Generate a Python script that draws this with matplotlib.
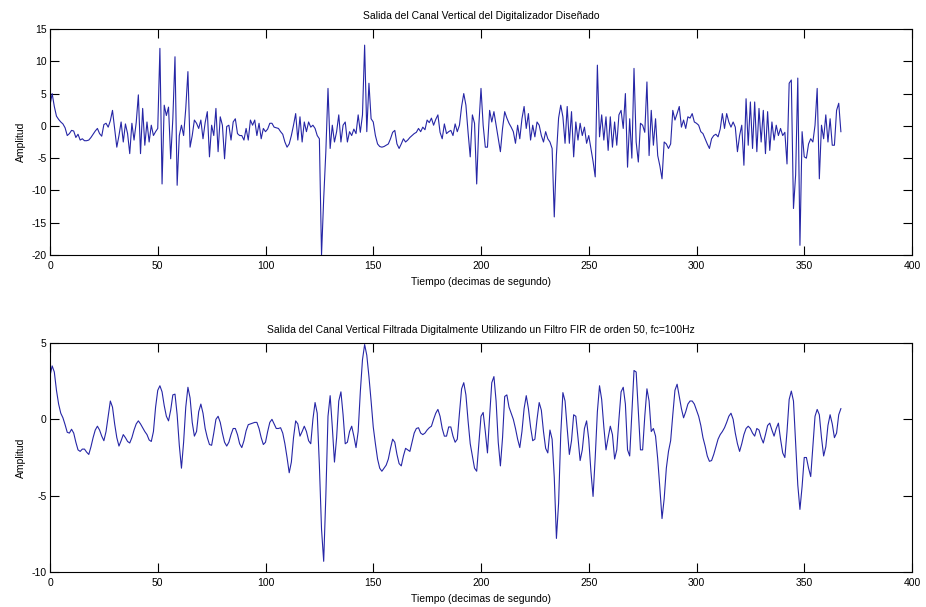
import numpy as np
import matplotlib
matplotlib.use("Agg")
import matplotlib.pyplot as plt

# Raw vertical-channel output of the digitizer (one sample per tenth of a second)
raw_signal = [
    3.2, 5.0, 3.0, 1.5, 1.0, 0.6, 0.3, -0.3, -1.5, -1.2,
    -0.7, -0.8, -1.8, -1.3, -2.2, -2.0, -2.3, -2.3, -2.2, -1.8,
    -1.3, -0.8, -0.4, -1.2, -1.6, 0.2, 0.4, -0.2, 0.8, 2.4,
    -0.5, -3.3, -1.5, 0.6, -2.5, 0.3, -1.2, -4.3, 0.4, -2.2,
    0.5, 4.8, -4.3, 2.7, -3.0, 0.6, -2.5, 0.1, -1.5, -0.9,
    -0.4, 12.0, -9.0, 3.2, 1.6, 2.9, -5.1, 1.1, 10.7, -9.2,
    -1.5, 0.1, -1.5, 2.7, 8.4, -3.3, -1.5, 0.9, 0.4, -0.4,
    0.9, -2.0, 0.5, 2.2, -4.8, 0.1, -1.5, 2.7, -4.0, 1.4,
    0.1, -5.1, -0.1, 0.1, -2.2, 0.6, 1.1, -1.2, -1.5, -1.5,
    -2.2, -0.4, -2.2, 0.9, 0.1, 0.9, -1.5, 0.4, -2.0, -0.4,
    -0.9, -0.5, 0.4, 0.4, -0.2, -0.3, -0.4, -0.9, -1.3, -2.5,
    -3.3, -2.8, -1.5, 0.1, 1.9, -2.2, 1.4, -2.5, 0.6, -0.9,
    0.6, -0.2, 0.1, -0.4, -1.5, -2.0, -20.0, -11.3, -4.0, 5.8,
    -3.5, 0.1, -2.5, -0.9, 1.7, -2.5, 0.1, 0.6, -2.5, -0.9,
    -1.5, -0.5, -1.2, 1.7, -1.0, 1.7, 12.5, -0.9, 6.6, 1.1,
    0.6, -1.5, -2.8, -3.2, -3.3, -3.2, -3.0, -2.8, -2.0, -1.0,
    -0.7, -2.8, -3.5, -2.8, -2.0, -2.5, -2.2, -1.8, -1.5, -1.2,
    -1.0, -0.4, -0.9, -0.2, -0.6, 0.9, 0.5, 1.2, 0.1, 1.0,
    1.7, -1.0, -2.0, 0.3, -1.2, -0.9, -0.7, -1.5, 0.3, -0.9,
    0.1, 3.0, 5.0, 3.2, -1.0, -4.8, 1.7, 0.4, -9.0, 0.1,
    5.8, 0.1, -3.3, -3.3, 2.4, 0.6, 2.2, 0.1, -2.0, -4.0,
    -0.4, 2.2, 1.2, 0.4, -0.2, -0.9, -2.7, 0.1, -2.0, 1.1,
    3.0, -0.4, 1.9, -2.2, 0.1, -1.7, 0.6, 0.1, -1.5, -2.5,
    -0.9, -2.0, -2.5, -3.5, -14.1, -4.5, 1.2, 3.2, 1.4, -2.7,
    3.0, -2.7, 2.2, -4.8, 0.6, -2.2, 0.4, -1.5, -0.2, -2.7,
    -1.5, -3.5, -5.5, -7.9, 9.4, -1.7, 1.7, -2.2, 1.4, -3.8,
    1.4, -3.3, 0.6, -3.0, 1.7, 2.4, -0.4, 5.0, -6.4, 1.1,
    -5.0, 8.9, -2.5, -5.6, 0.4, 0.1, -1.0, 6.8, -4.6, 2.4,
    -3.0, 1.1, -4.6, -6.2, -8.2, -2.5, -2.8, -3.5, -2.8, 2.4,
    0.9, 1.9, 3.0, -0.2, 0.9, -0.4, 1.4, 1.2, 1.9, 0.6,
    0.4, 0.1, -0.9, -1.2, -2.0, -2.8, -3.5, -2.0, -1.5, -1.3,
    -1.7, -0.5, 1.9, -0.4, 1.9, 0.6, -0.2, 0.6, -0.2, -4.0,
    -1.5, 0.1, -6.1, 4.2, -3.0, 3.7, -3.5, 3.7, -4.0, 2.7,
    -2.5, 2.4, -4.3, 2.2, -3.8, 0.6, -2.2, 0.1, -1.5, -0.4,
    -1.5, -1.0, -5.9, 6.6, 7.1, -12.8, -7.6, 7.4, -18.5, -0.9,
    -4.8, -5.0, -2.8, -2.0, -2.5, 0.1, 5.8, -8.2, 0.1, -2.0,
    1.7, -2.5, 1.1, -3.0, -3.0, 2.4, 3.5, -0.9,
]

# Same channel after the order-50 FIR low-pass filter (fc = 100 Hz)
filtered_signal = [
    2.85, 3.5, 3.1, 1.9, 1.0, 0.4, 0.1, -0.35, -0.85, -0.9,
    -0.65, -0.9, -1.5, -2.0, -2.1, -1.95, -1.95, -2.15, -2.3, -1.8,
    -1.2, -0.7, -0.45, -0.7, -1.1, -1.4, -0.8, 0.2, 1.2, 0.8,
    -0.3, -1.2, -1.75, -1.4, -1.0, -1.2, -1.45, -1.55, -1.2, -0.7,
    -0.3, -0.1, -0.3, -0.55, -0.8, -1.0, -1.35, -1.45, -0.8, 0.8,
    1.9, 2.2, 1.8, 0.9, 0.2, -0.1, 0.6, 1.6, 1.65, 0.3,
    -1.7, -3.2, -1.5, 0.8, 2.1, 1.4, -0.2, -1.1, -0.8, 0.5,
    1.0, 0.4, -0.6, -1.2, -1.65, -1.7, -0.9, 0.0, 0.2, -0.2,
    -0.9, -1.5, -1.75, -1.5, -1.0, -0.6, -0.6, -1.0, -1.6, -1.85,
    -1.4, -0.75, -0.35, -0.3, -0.25, -0.2, -0.2, -0.6, -1.2, -1.65,
    -1.5, -0.8, -0.2, 0.0, -0.3, -0.6, -0.6, -0.55, -0.9, -1.6,
    -2.5, -3.5, -2.8, -1.2, -0.1, -0.3, -1.1, -0.8, -0.45, -0.8,
    -1.4, -1.6, 0.0, 1.1, 0.4, -3.0, -7.2, -9.3, -5.0, 0.2,
    1.55, -0.5, -2.8, -1.2, 1.2, 1.8, 0.3, -1.6, -1.5, -0.8,
    -0.45, -1.1, -1.85, -0.8, 1.8, 3.9, 4.9, 4.2, 2.8, 1.2,
    -0.5, -1.6, -2.6, -3.2, -3.4, -3.2, -3.0, -2.6, -1.9, -1.3,
    -1.5, -2.3, -2.9, -3.05, -2.4, -1.9, -2.0, -2.1, -1.5, -0.9,
    -0.6, -0.55, -0.9, -1.0, -0.9, -0.7, -0.55, -0.45, 0.0, 0.4,
    0.65, 0.2, -0.6, -1.1, -1.1, -0.5, -0.5, -1.1, -1.5, -1.3,
    0.4, 2.0, 2.4, 1.6, -0.1, -1.6, -2.4, -3.2, -3.4, -1.6,
    0.2, 0.45, -0.8, -2.2, 0.2, 2.4, 2.8, 1.2, -1.5, -3.05,
    -1.2, 1.5, 1.6, 0.8, 0.4, 0.0, -0.6, -1.3, -1.85, -0.8,
    0.7, 1.55, 0.7, -0.5, -1.4, -1.3, 0.0, 1.1, 0.6, -0.8,
    -1.9, -2.2, -0.7, -1.3, -3.8, -7.8, -5.5, -1.0, 1.75, 1.2,
    -0.6, -2.3, -1.4, 0.3, 0.2, -1.2, -2.7, -2.0, -0.6, -0.1,
    -1.3, -3.4, -5.05, -2.5, 0.5, 2.2, 1.3, -0.5, -2.0, -1.2,
    -0.45, -1.0, -2.6, -2.0, 0.0, 1.8, 2.1, 1.0, -2.0, -2.4,
    0.4, 3.2, 3.1, 0.5, -2.0, -2.0, 0.2, 2.0, 1.2, -0.8,
    -0.6, -1.1, -2.6, -4.5, -6.5, -5.2, -3.2, -2.1, -1.4, 0.3,
    1.9, 2.3, 1.5, 0.7, 0.1, 0.5, 1.0, 1.2, 1.2, 1.0,
    0.6, 0.2, -0.4, -1.2, -1.75, -2.4, -2.75, -2.7, -2.3, -1.8,
    -1.3, -1.0, -0.8, -0.55, -0.2, 0.2, 0.4, 0.0, -0.9, -1.6,
    -2.1, -1.6, -1.0, -0.6, -0.45, -0.6, -0.9, -1.1, -0.6, -0.7,
    -1.2, -1.55, -1.0, -0.4, -0.25, -0.7, -1.1, -0.6, -0.25, -1.3,
    -2.2, -2.5, -0.8, 1.3, 1.85, 1.2, -1.6, -4.3, -5.9, -4.4,
    -2.5, -2.5, -3.2, -3.75, -1.8, 0.2, 0.65, 0.3, -1.2, -2.4,
    -1.8, -0.4, 0.3, -0.3, -1.2, -0.9, 0.3, 0.7,
]

x_ticks = [0, 50, 100, 150, 200, 250, 300, 350, 400]
top_yticks = [-20, -15, -10, -5, 0, 5, 10, 15]
bottom_yticks = [-10, -5, 0, 5]

title_top = "Salida del Canal Vertical del Digitalizador Diseñado"
title_bottom = ("Salida del Canal Vertical Filtrada Digitalmente Utilizando "
                "un Filtro FIR de orden 50, fc=100Hz")
xlabel = "Tiempo (decimas de segundo)"
ylabel = "Amplitud"

plt.rcParams["font.family"] = ["Liberation Sans", "DejaVu Sans"]
plt.rcParams["font.size"] = 7.5
plt.rcParams["axes.unicode_minus"] = False

line_color = "#2626a6"

fig = plt.figure(figsize=(9.26, 6.07), dpi=100)
W, H = 926, 607


def make_axes(left, top, right, bottom):
    return fig.add_axes([left / W, 1 - bottom / H, (right - left) / W, (bottom - top) / H])


ax1 = make_axes(50, 29, 912, 255)
ax2 = make_axes(50, 343, 912, 572)

for ax, data, yticks, ylim, title in [
    (ax1, raw_signal, top_yticks, (-20, 15), title_top),
    (ax2, filtered_signal, bottom_yticks, (-10, 5), title_bottom),
]:
    t = np.arange(len(data))
    ax.plot(t, data, color=line_color, linewidth=0.8)
    ax.set_xlim(0, 400)
    ax.set_ylim(*ylim)
    ax.set_xticks(x_ticks)
    ax.set_yticks(yticks)
    ax.tick_params(direction="in", top=True, right=True, length=6.5,
                   width=0.8, labelsize=7.5)
    ax.tick_params(axis="x", pad=4.5)
    ax.tick_params(axis="y", pad=2.5)
    for s in ax.spines.values():
        s.set_linewidth(0.8)
    ax.set_title(title, fontsize=7.5, pad=7)
    ax.set_xlabel(xlabel, fontsize=7.5, labelpad=4)
    ax.set_ylabel(ylabel, fontsize=7.5, labelpad=4)

fig.savefig("out.png", dpi=100)
